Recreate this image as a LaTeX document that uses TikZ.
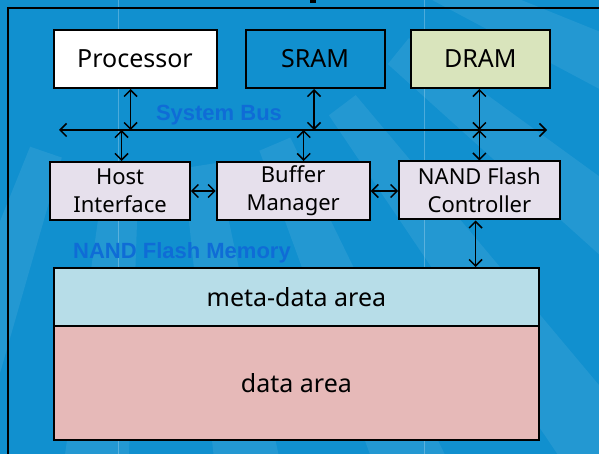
\documentclass[tikz,border=0pt]{standalone}
\usepackage{fontspec}
\setmainfont{Noto Sans}
\newfontfamily\labelfont{Liberation Sans}
\usetikzlibrary{arrows.meta,calc}
\definecolor{slideblue}{HTML}{1190CF}
\definecolor{labelblue}{HTML}{0F6CD6}
\definecolor{procfill}{HTML}{FFFFFF}
\definecolor{dramfill}{HTML}{D9E4BC}
\definecolor{ctrlfill}{HTML}{E6E0EC}
\definecolor{metafill}{HTML}{B7DDE8}
\definecolor{datafill}{HTML}{E6B9B8}
\tikzset{
  barbtip/.tip={Straight Barb[length=6.5pt,width=13pt,line width=1.5pt]},
  unitbox/.style={draw=black, line width=2pt, inner sep=0pt, align=center,
    font=\fontsize{25}{30}\selectfont, minimum height=58pt},
  ctrlbox/.style={unitbox, fill=ctrlfill, font=\fontsize{22}{28}\selectfont},
  buslabel/.style={text=labelblue, font=\labelfont\bfseries\fontsize{22}{26}\selectfont},
  dbl/.style={line width=1.5pt, {barbtip}-{barbtip}},
}
\begin{document}
\begin{tikzpicture}[x=1pt,y=-1pt]
% slide background
\fill[slideblue] (0,0) rectangle (599,454);
\useasboundingbox (0,0) rectangle (599,454);
% faint sunburst stripes of the slide theme
\begin{scope}
  \clip (0,0) rectangle (599,454);
  \foreach \a in {8,22,36,50,64,78,92,106} {
    \fill[white, opacity=0.08] ($(150,-150)+(\a:320)$) -- ($(150,-150)+(\a:900)$)
      -- ($(150,-150)+(\a+6:900)$) -- ($(150,-150)+(\a+6:320)$) -- cycle;
  }
\end{scope}
% guide lines and frame
\draw[white, opacity=0.25, line width=0.8pt] (118,0) -- (118,454);
\draw[white, opacity=0.25, line width=0.8pt] (424,0) -- (424,454);
\draw[black, line width=1.5pt] (8,454) -- (8,8) -- (599,8);
\fill[black] (310,0) rectangle (316,3);

% top row
\node[unitbox, fill=procfill, minimum width=163pt] (proc) at (135,59) {Processor};
\node[unitbox, fill=slideblue, minimum width=139pt] (sram) at (315,59) {SRAM};
\node[unitbox, fill=dramfill, minimum width=139pt] (dram) at (480.3,59) {DRAM};

% system bus
\coordinate (busL) at (59,130);
\coordinate (busR) at (547,130);
\draw[dbl] (busL) -- (busR);
\node[buslabel] (sysbus) at (219,115) {System Bus};

% controller row
\node[ctrlbox, minimum width=139.4pt] (host) at (120.1,191) {Host\\[0pt]Interface};
\node[ctrlbox, minimum width=153pt] (buf) at (293.2,191) {Buffer\\[0pt]Manager};
\node[ctrlbox, minimum width=160.4pt] (nfc) at (479.4,190.5) {NAND Flash\\[0pt]Controller};

% flash memory
\node[buslabel] (nandlbl) at (182,253) {NAND Flash Memory};
\node[unitbox, fill=metafill, minimum width=485.8pt] (meta) at (296.4,297) {meta-data area};
\node[unitbox, fill=datafill, minimum width=485.8pt, minimum height=114pt] (data) at (296.4,383) {data area};

% bus connections
\draw[dbl] ([xshift=-4.4pt]proc.south) -- ([xshift=-4.4pt]proc.south |- busL);
\draw[dbl] ([xshift=-1pt]sram.south) -- ([xshift=-1pt]sram.south |- busL);
\draw[dbl] ([xshift=-0.9pt]dram.south) -- ([xshift=-0.9pt]dram.south |- busL);
\draw[dbl] ([xshift=1.4pt]host.north |- busL) -- ([xshift=1.4pt]host.north);
\draw[dbl] ([xshift=10.5pt]buf.north |- busL) -- ([xshift=10.5pt]buf.north);
\draw[dbl] (nfc.north |- busL) -- (nfc.north);

% controller links
\draw[dbl] (host.east) -- (buf.west);
\draw[dbl] (buf.east) -- (buf.east -| nfc.west);
\draw[dbl] ([xshift=-3.8pt]nfc.south) -- ([xshift=-3.8pt]nfc.south |- meta.north);
\end{tikzpicture}
\end{document}
